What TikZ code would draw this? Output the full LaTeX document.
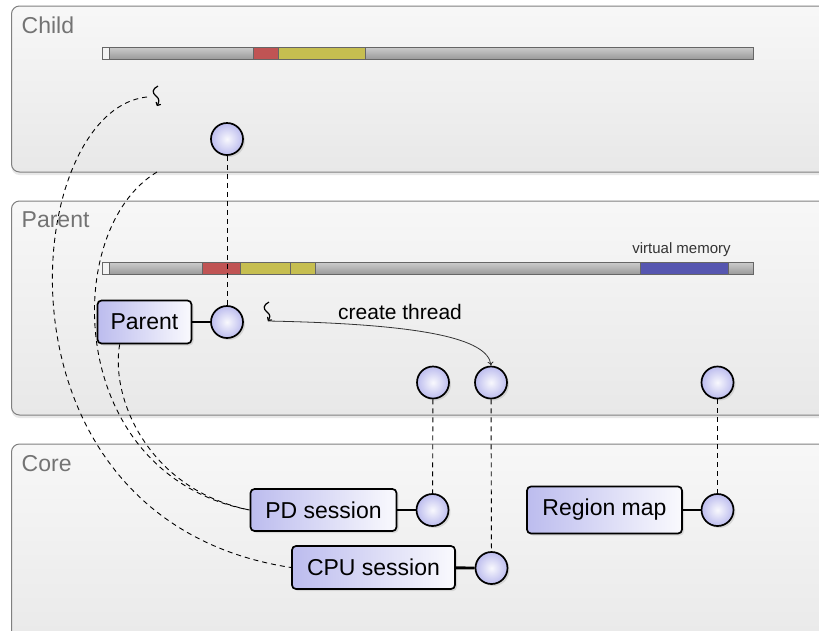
\documentclass[tikz,border=0pt]{standalone}
\usepackage{fontspec}
\setmainfont{Liberation Sans}
\usetikzlibrary{shadows,arrows.meta}
\definecolor{lav}{RGB}{188,188,238}
\definecolor{barred}{RGB}{192,84,84}
\definecolor{baryel}{RGB}{198,190,80}
\definecolor{barblu}{RGB}{86,86,176}
\begin{document}
\begin{tikzpicture}[x=1pt,y=-1pt,
  panel/.style={draw=black!50, line width=1pt, rounded corners=8pt, top color=black!3, bottom color=black!9,
    drop shadow={shadow xshift=0pt, shadow yshift=-3pt, opacity=0.18}},
  ptitle/.style={text=black!55, font=\fontsize{23}{27}\selectfont, inner sep=0pt, anchor=base west},
  box/.style={draw, line width=1.7pt, rounded corners=4pt, left color=lav, right color=lav!8,
    minimum height=43pt, font=\fontsize{23}{27}\selectfont, inner sep=0pt,
    drop shadow={shadow xshift=2pt, shadow yshift=-2pt, opacity=0.22}},
  port/.style={circle, draw, line width=1.7pt, minimum size=32pt, inner sep=0pt,
    inner color=lav!10, outer color=lav,
    drop shadow={shadow xshift=2pt, shadow yshift=-2pt, opacity=0.22}},
  wire/.style={line width=2.8pt},
  dline/.style={dash pattern=on 5pt off 4pt, line width=0.9pt},
  barbase/.style={draw=black!60, line width=1pt, top color=black!20, bottom color=black!40},
  seg/.style={draw=black!60, line width=1pt},
  squig/.style={line width=1.2pt, -{To[length=3.5pt,width=6pt]}},
]
\clip (0,0) rectangle (819,630);
\fill[white] (0,0) rectangle (819,630);

% panels
\path[panel] (11.5,6) rectangle (850,172);
\path[panel] (11.5,201) rectangle (850,415);
\path[panel] (11.5,444) rectangle (850,660);
\node[ptitle] (tchild) at (21.5,33) {Child};
\node[ptitle] (tparent) at (21.5,227) {Parent};
\node[ptitle] (tcore) at (21.5,471) {Core};

% child memory bar
\path[barbase] (102.5,47) rectangle (753,59.5);
\path[seg, fill=black!5] (102.5,47) rectangle (109,59.5);
\path[seg, fill=barred] (253,47) rectangle (278,59.5);
\path[seg, fill=baryel] (278,47) rectangle (365.5,59.5);

% parent memory bar
\path[barbase] (102.5,262) rectangle (753,274.5);
\path[seg, fill=black!5] (102.5,262) rectangle (109,274.5);
\path[seg, fill=barred] (202,262) rectangle (240.5,274.5);
\path[seg, fill=baryel] (240.5,262) rectangle (290.5,274.5);
\path[seg, fill=baryel] (290.5,262) rectangle (315.5,274.5);
\path[seg, fill=barblu] (640,262) rectangle (728,274.5);
\node[anchor=base, inner sep=0pt, font=\fontsize{15}{18}\selectfont, text=black!80] (vm) at (681.5,253.5) {virtual memory};

% nodes
\node[port] (cc) at (227,139) {};
\node[port] (pc) at (227,322) {};
\node[box, minimum width=94pt] (parentbox) at (144.5,322) {Parent};
\node[port] (p1) at (433,382.5) {};
\node[port] (p2) at (491,382.5) {};
\node[port] (p3) at (717.5,382.5) {};
\node[port] (pdc) at (432.5,510) {};
\node[port] (cpuc) at (491.5,568) {};
\node[port] (rmc) at (717.5,510) {};
\node[box, minimum width=146pt, minimum height=42pt] (pdbox) at (323.5,510) {PD session};
\node[box, minimum width=163pt] (cpubox) at (373.5,567.5) {CPU session};
\node[box, minimum width=155pt, minimum height=47pt] (rmbox) at (604.5,510) {Region map};

% solid wires
\draw[wire] (parentbox) -- (pc);
\draw[wire] (pdbox) -- (pdc);
\draw[wire] (cpubox) -- (cpuc);
\draw[wire] (rmbox) -- (rmc);

% dashed vertical links
\draw[dline] (cc) -- (pc);
\draw[dline] (p1) -- (pdc);
\draw[dline] (p2) -- (cpuc);
\draw[dline] (p3) -- (rmc);

% threads
\coordinate (cthr) at (147,97);
\coordinate (cbot) at (157,172);
\coordinate (pthr) at (268,321);
\draw[squig] (158,86) .. controls (152,89) and (152,93) .. (156,96) .. controls (160,99) and (159,102) .. (157,106);
\draw[squig] (269,302) .. controls (263,305) and (263,309) .. (267,312) .. controls (271,315) and (270,318) .. (268,321);

% create thread
\draw[line width=0.8pt, black!80, -{To[length=4pt,width=6pt]}] (pthr) .. controls (420,324) and (488,338) .. (p2.north);
\node[anchor=base west, inner sep=0pt, font=\fontsize{21}{25}\selectfont] (ct) at (338,319) {create thread};

% dashed curves
\draw[dline] (cthr) .. controls (20,110) and (-20,520) .. (cpubox.west);
\draw[dline] (cbot) .. controls (60,230) and (65,475) .. (pdbox.west);
\path (parentbox.south west) ++(23,0) coordinate (pbs);
\draw[dline] (pbs) .. controls (110,400) and (150,490) .. (pdbox.west);
\end{tikzpicture}
\end{document}
